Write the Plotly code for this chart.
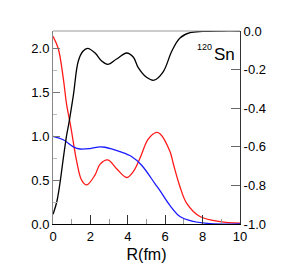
import plotly.graph_objects as go

# Black curve (right axis)
r_black = [0, 0.2, 0.37, 0.55, 0.73, 0.85, 1.09, 1.35, 1.6, 1.85, 2.25, 2.6, 2.93, 3.4, 3.94, 4.3, 4.56, 5.0, 5.4, 5.9, 6.35, 6.79, 7.33, 8.0, 9.0, 10.0]
v_black = [-0.95, -0.886, -0.79, -0.66, -0.54, -0.477, -0.332, -0.157, -0.105, -0.09, -0.114, -0.155, -0.173, -0.145, -0.114, -0.136, -0.19, -0.24, -0.255, -0.21, -0.105, -0.036, -0.009, -0.002, 0.0, 0.0]

# Red curve (left axis)
r_red = [0, 0.28, 0.55, 0.73, 0.95, 1.27, 1.53, 1.8, 2.25, 2.51, 2.93, 3.4, 3.94, 4.3, 4.65, 5.1, 5.54, 5.72, 6.26, 6.43, 6.79, 7.15, 7.86, 8.93, 10.0]
v_red = [2.14, 2.0, 1.66, 1.36, 1.11, 0.71, 0.5, 0.445, 0.56, 0.68, 0.73, 0.63, 0.53, 0.6, 0.75, 0.97, 1.045, 1.03, 0.825, 0.69, 0.425, 0.235, 0.085, 0.027, 0.01]

# Blue curve (left axis)
r_blue = [0, 0.55, 1.09, 1.44, 1.98, 2.51, 2.78, 3.58, 4.2, 4.74, 5.45, 5.72, 6.26, 6.79, 7.5, 8.4, 10.0]
v_blue = [1.0, 0.96, 0.88, 0.855, 0.86, 0.88, 0.875, 0.825, 0.77, 0.67, 0.46, 0.38, 0.21, 0.085, 0.03, 0.005, 0.0]

x_ticks = [0, 2, 4, 6, 8, 10]
y_ticks = [0.0, 0.5, 1.0, 1.5, 2.0]
y2_ticks = [0.0, -0.2, -0.4, -0.6, -0.8, -1.0]
y2_labels = ["0.0", "-0.2", "-0.4", "-0.6", "-0.8", "-1.0"]

FONT = "Liberation Sans, Arial, Helvetica, sans-serif"

fig = go.Figure()
fig.add_trace(go.Scatter(x=r_red, y=v_red, mode="lines", line=dict(color="#ff1a1a", width=1.3, shape="spline"), yaxis="y"))
fig.add_trace(go.Scatter(x=r_blue, y=v_blue, mode="lines", line=dict(color="#1a1aff", width=1.3, shape="spline"), yaxis="y"))
fig.add_trace(go.Scatter(x=r_black, y=v_black, mode="lines", line=dict(color="black", width=1.3, shape="spline"), yaxis="y2"))

fig.update_layout(
    width=279, height=263,
    margin=dict(l=45, r=47, t=23, b=47),
    paper_bgcolor="white", plot_bgcolor="white",
    showlegend=False,
    font=dict(family=FONT, size=13, color="black"),
    xaxis=dict(
        range=[0, 10], tickvals=x_ticks, ticks="inside", ticklen=9, tickcolor="#333",
        showline=True, linecolor="black", linewidth=1, showgrid=False, zeroline=False,
        minor=dict(dtick=1, ticks="inside", ticklen=5, tickcolor="#999"),
        title=dict(text="R(fm)", font=dict(size=16), standoff=6),
        tickfont=dict(size=13), automargin=False,
    ),
    yaxis=dict(
        range=[0, 2.2], tickvals=y_ticks, tickformat=".1f", ticks="inside", ticklen=7, tickcolor="#777",
        showline=True, linecolor="#888", linewidth=1, showgrid=False, zeroline=False,
        minor=dict(dtick=0.25, ticks="inside", ticklen=4, tickcolor="#bbb"),
        tickfont=dict(size=13), automargin=False,
    ),
    yaxis2=dict(
        range=[-1, 0], overlaying="y", side="right", tickvals=y2_ticks, ticktext=y2_labels,
        ticks="inside", ticklen=9, tickcolor="#666",
        showline=True, linecolor="#333", linewidth=1, showgrid=False, zeroline=False,
        tickfont=dict(size=13), automargin=False,
    ),
    shapes=[dict(type="line", xref="paper", yref="paper", x0=0, x1=1, y0=1, y1=1,
                 line=dict(color="#999", width=1))],
    annotations=[
        dict(text="120", xref="paper", yref="paper", x=0.758, y=0.917,
             xanchor="left", yanchor="middle", showarrow=False,
             font=dict(size=9, family=FONT)),
        dict(text="Sn", xref="paper", yref="paper", x=0.85, y=0.879,
             xanchor="left", yanchor="middle", showarrow=False,
             font=dict(size=17, family=FONT)),
    ],
)

fig.write_html("out.html")
